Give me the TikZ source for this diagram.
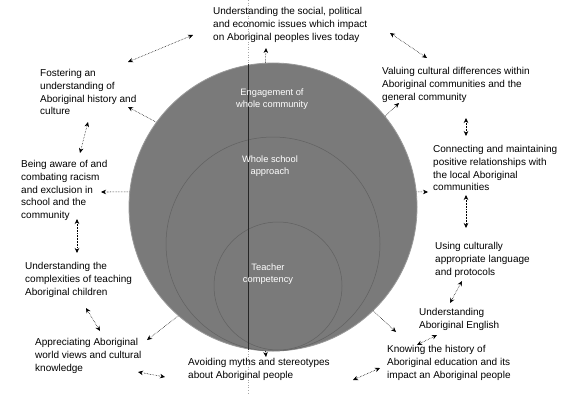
\documentclass[tikz,border=0pt]{standalone}
\usepackage{fontspec}
\setmainfont{Liberation Sans}
\usetikzlibrary{arrows.meta}
\definecolor{disk}{RGB}{122,122,122}
\begin{document}
\begin{tikzpicture}[x=1pt,y=-1pt,
  lbl/.style={anchor=north west,inner sep=0pt,align=left,font=\fontsize{10}{12.6}\selectfont},
  inlbl/.style={inner sep=0pt,align=center,text=white,font=\fontsize{9.3}{11.8}\selectfont},
  dar/.style={densely dotted,line width=0.55pt,{Stealth[length=5pt,width=4.5pt]}-{Stealth[length=5pt,width=4.5pt]}},
  sar/.style={densely dotted,line width=0.55pt,-{Stealth[length=5pt,width=4.5pt]}},
  ring/.style={draw=black!62,line width=0.5pt}]
\useasboundingbox (0,0) rectangle (561,393);
\fill[white] (0,0) rectangle (561,393);
% guide line
\draw[black!35,dotted,line width=0.6pt] (248,0) -- (248,393);
% disks
\node[circle,minimum size=288pt,inner sep=0pt,fill=disk,draw=black!40,line width=0.8pt] (outer) at (273,207) {};
\node[circle,minimum size=214pt,inner sep=0pt,ring] (mid) at (273,244) {};
\node[circle,minimum size=128pt,inner sep=0pt,ring] (inner) at (278,286) {};
\draw[black!85,line width=0.7pt] (248,64) -- (248,350);
\node[inlbl] (t1) at (272,99) {Engagement of\\whole community};
\node[inlbl] (t2) at (270,166) {Whole school\\approach};
\node[inlbl] (t3) at (268,274) {Teacher\\competency};
% labels
\node[lbl] (top) at (213,7.5) {Understanding the social, political\\and economic issues which impact\\on Aboriginal peoples lives today};
\node[lbl] (val) at (382,67.5) {Valuing cultural differences within\\Aboriginal communities and the\\general community};
\node[lbl] (fos) at (40,69.5) {Fostering an\\understanding of\\Aboriginal history and\\culture};
\node[lbl] (bei) at (21,160.5) {Being aware of and\\combating racism\\and exclusion in\\school and the\\community};
\node[lbl] (con) at (433,145.5) {Connecting and maintaining\\positive relationships with\\the local Aboriginal\\communities};
\node[lbl] (usi) at (435,242.5) {Using culturally\\appropriate language\\and protocols};
\node[lbl] (ueng) at (419,308.5) {Understanding\\Aboriginal English};
\node[lbl] (com) at (25,262.5) {Understanding the\\complexities of teaching\\Aboriginal children};
\node[lbl] (kno) at (387,345.5) {Knowing the history of\\Aboriginal education and its\\impact an Aboriginal people};
\node[lbl] (app) at (35,338.5) {Appreciating Aboriginal\\world views and cultural\\knowledge};
\node[lbl] (avo) at (188,358.5) {Avoiding myths and stereotypes\\about Aboriginal people};
% endpoints
\coordinate (eTop) at (266,48);
\coordinate (eFos) at (128,107);
\coordinate (eBei) at (101,192);
\coordinate (eApp) at (147,340);
\coordinate (eAvo) at (266,357);
\coordinate (eUeng) at (396,332);
\coordinate (eCon) at (428,192);
\coordinate (eVal) at (399,103);
\coordinate (b1) at (128,62);  \coordinate (b2) at (193,35);
\coordinate (d1) at (88,122);  \coordinate (d2) at (80,153);
\coordinate (f1) at (77,219);  \coordinate (f2) at (77,253);
\coordinate (g1) at (86,308);  \coordinate (g2) at (100,331);
\coordinate (i1) at (138,372); \coordinate (i2) at (165,377);
\coordinate (k1) at (353,380); \coordinate (k2) at (380,368);
\coordinate (m1) at (437,335); \coordinate (m2) at (417,345);
\coordinate (n1) at (450,303); \coordinate (n2) at (462,281);
\coordinate (o1) at (466,195); \coordinate (o2) at (466,228);
\coordinate (q1) at (466,118); \coordinate (q2) at (466,136);
\coordinate (s1) at (390,33);  \coordinate (s2) at (427,58);
% arrows from disk
\draw[sar] (outer.93) -- (eTop);
\draw[sar] (outer.144) -- (eFos);
\draw[sar] (outer.174) -- (eBei);
\draw[sar] (outer.229) -- (eApp);
\draw[sar] (outer.267) -- (eAvo);
\draw[sar] (outer.314) -- (eUeng);
\draw[sar] (outer.6) -- (eCon);
\draw[sar] (outer.39) -- (eVal);
% arrows between labels
\draw[dar] (b1) -- (b2);
\draw[dar] (d1) -- (d2);
\draw[dar] (f1) -- (f2);
\draw[dar] (g1) -- (g2);
\draw[dar] (i1) -- (i2);
\draw[dar] (k1) -- (k2);
\draw[dar] (m1) -- (m2);
\draw[dar] (n1) -- (n2);
\draw[dar] (o1) -- (o2);
\draw[dar] (q1) -- (q2);
\draw[dar] (s1) -- (s2);
\end{tikzpicture}
\end{document}
